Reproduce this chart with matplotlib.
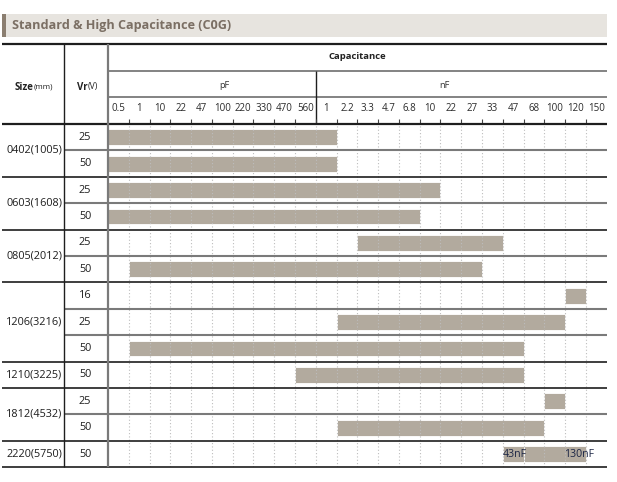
import matplotlib
matplotlib.use('Agg')
import matplotlib.pyplot as plt
from matplotlib.patches import Rectangle
from matplotlib.ticker import FixedLocator, FixedFormatter, NullFormatter

plt.rcParams['font.family'] = ['Open Sans', 'DejaVu Sans']

# ---------------- data ----------------
sizes = ['0402(1005)', '0603(1608)', '0805(2012)', '1206(3216)',
         '1210(3225)', '1812(4532)', '2220(5750)']
voltages = [[25, 50], [25, 50], [25, 50], [16, 25, 50], [50], [25, 50], [50]]
pf_labels = ['0.5', '1', '10', '22', '47', '100', '220', '330', '470', '560']
nf_labels = ['1', '2.2', '3.3', '4.7', '6.8', '10', '22', '27', '33', '47',
             '68', '100', '120', '150']
# bar segments: row index, first column, last column (exclusive)
bar_row = [0, 1, 2, 3, 4, 5, 6, 7, 8, 9, 10, 11, 12, 12]
bar_start = [0, 0, 0, 0, 12, 1, 22, 11, 1, 9, 21, 11, 19, 20]
bar_end = [11, 11, 16, 15, 19, 18, 23, 22, 20, 20, 22, 21, 20, 23]
note_row = [12, 12]
note_text = ['43nF', '130nF']

title = 'Standard & High Capacitance (C0G)'

# ---------------- layout helpers ----------------
W, H = 617, 482
L_PX, R_PX, T_PX, B_PX = 108.0, 606.7, 124.0, 467.3
ncol = len(pf_labels) + len(nf_labels)
nrow = sum(len(v) for v in voltages)
sx = (R_PX - L_PX) / ncol
sy = (B_PX - T_PX) / nrow


def xd(px):
    return (px - L_PX) / sx


def yd(py):
    return (py - T_PX) / sy


fig = plt.figure(figsize=(W / 100, H / 100), dpi=100)
ax = fig.add_axes([L_PX / W, 1 - B_PX / H, (R_PX - L_PX) / W, (B_PX - T_PX) / H])
ax.set_xlim(0, ncol)
ax.set_ylim(nrow, 0)
ax.set_facecolor('none')
for s in ax.spines.values():
    s.set_visible(False)
ax.set_yticks([])

BAR = '#b2aa9e'
DARK = '#1e1e1e'
GREY = '#7a7a7a'

# bars
ax.barh([r + 0.5 for r in bar_row],
        [e - s for s, e in zip(bar_start, bar_end)],
        left=bar_start, height=0.6, color=BAR, edgecolor='white',
        linewidth=0.6, zorder=1)

# notes inside the 2220 bars
ax.text(bar_start[-2] + 0.0, note_row[0] + 0.5, note_text[0], ha='left',
        va='center', fontsize=7.6, color='#1b2545', zorder=4)
ax.text(bar_end[-1] + 0.4, note_row[1] + 0.5, note_text[1], ha='right',
        va='center', fontsize=7.6, color='#1b2545', zorder=4)

# ticks and grid
labels = pf_labels + nf_labels
ax.xaxis.set_ticks_position('top')
ax.xaxis.set_major_locator(FixedLocator(list(range(1, ncol))))
ax.xaxis.set_major_formatter(NullFormatter())
ax.xaxis.set_minor_locator(FixedLocator([i + 0.5 for i in range(ncol)]))
ax.xaxis.set_minor_formatter(FixedFormatter(labels))
ax.tick_params(axis='x', which='major', direction='out', length=3.6,
               width=0.8, color='#444444', top=True, bottom=False,
               labeltop=False, labelbottom=False)
ax.tick_params(axis='x', which='minor', length=0, top=True, bottom=False,
               labeltop=True, labelbottom=False, labelsize=7,
               labelcolor='#2a2a2a', pad=7)
ax.grid(True, axis='x', which='major', linestyle=(0, (1, 2)),
        color='#bdbdbd', linewidth=0.8)
ax.set_axisbelow(False)

# row lines
bounds = []
acc = 0
for v in voltages:
    for j in range(1, len(v)):
        ax.hlines(acc + j, xd(63.5), ncol, colors=GREY, linewidth=1.5,
                  clip_on=False, zorder=3)
    acc += len(v)
    bounds.append(acc)
for b in bounds:
    ax.hlines(b, xd(2), ncol, colors=DARK, linewidth=1.2, clip_on=False,
              zorder=3)

# header lines
ax.hlines(0, xd(2), ncol, colors=DARK, linewidth=1.6, clip_on=False, zorder=3)
ax.hlines(yd(44), xd(2), ncol, colors=DARK, linewidth=1.6, clip_on=False)
ax.hlines([yd(70.7), yd(97.3)], 0, ncol, colors='#6e6e6e', linewidth=1.2,
          clip_on=False)
ax.vlines(xd(64.3), yd(44), nrow, colors=DARK, linewidth=1.0, clip_on=False,
          zorder=3)
ax.vlines(0, yd(44), nrow, colors=GREY, linewidth=1.6, clip_on=False,
          zorder=3)
ax.vlines(len(pf_labels), yd(70.7), 0, colors=DARK, linewidth=1.0,
          clip_on=False)

# title band
ax.add_patch(Rectangle((xd(1.7), yd(14)), xd(606.7) - xd(1.7),
                       (36.7 - 14) / sy, facecolor='#e7e4df',
                       edgecolor='none', clip_on=False, zorder=0))
ax.add_patch(Rectangle((xd(1.7), yd(14)), 4 / sx, (36.7 - 14) / sy,
                       facecolor='#8b7e70', edgecolor='none', clip_on=False,
                       zorder=1))
ax.text(xd(11.5), yd(25.8), title, ha='left', va='center', fontsize=9.1,
        fontweight='bold', color='#7b6f64', clip_on=False)

# header texts
ax.text(ncol / 2, yd(56.5), 'Capacitance', ha='center', va='center',
        fontsize=6.8, fontweight='bold', color='#222222')
ax.text(xd(224), yd(86), 'pF', ha='center', va='center', fontsize=6.6,
        color='#333333')
ax.text(xd(444), yd(86), 'nF', ha='center', va='center', fontsize=6.6,
        color='#333333')
ax.text(xd(33.3), yd(87), 'Size', ha='right', va='center', fontsize=7,
        fontweight='bold', color='#222222')
ax.text(xd(33.3), yd(87), '(mm)', ha='left', va='center', fontsize=5.8,
        color='#222222')
ax.text(xd(87.3), yd(87), 'Vr', ha='right', va='center', fontsize=7,
        fontweight='bold', color='#222222')
ax.text(xd(87.3), yd(87), '(V)', ha='left', va='center', fontsize=6.2,
        color='#222222')

# row labels
acc = 0
for name, v in zip(sizes, voltages):
    ax.text(xd(34.3), acc + len(v) / 2, name, ha='center', va='center',
            fontsize=7.8, color='#1e1e1e')
    for j, volt in enumerate(v):
        ax.text(xd(85), acc + j + 0.5, str(volt), ha='center', va='center',
                fontsize=7.8, color='#1e1e1e')
    acc += len(v)

fig.savefig('out.png', dpi=100)
